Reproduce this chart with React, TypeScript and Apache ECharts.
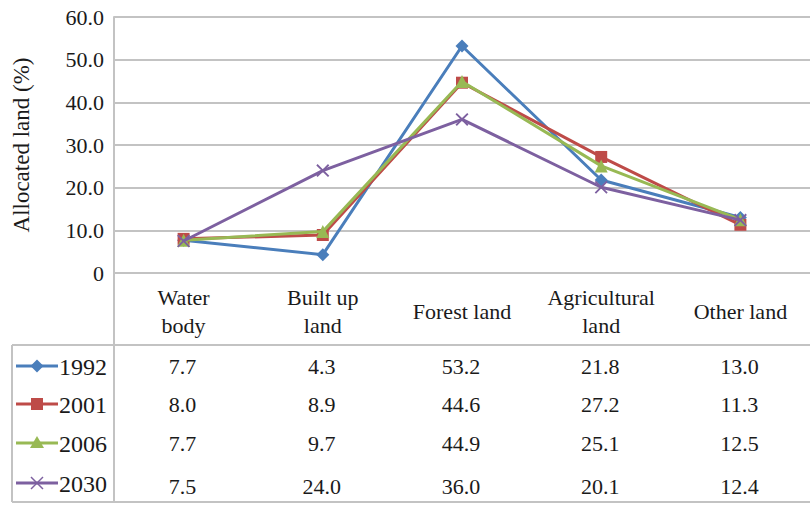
import React, { useEffect, useRef } from "react";
import * as echarts from "echarts";

const categories = ["Water\nbody", "Built up\nland", "Forest land", "Agricultural\nland", "Other land"];
const seriesNames = ["1992", "2001", "2006", "2030"];
const values1992 = [7.7, 4.3, 53.2, 21.8, 13.0];
const values2001 = [8.0, 8.9, 44.6, 27.2, 11.3];
const values2006 = [7.7, 9.7, 44.9, 25.1, 12.5];
const values2030 = [7.5, 24.0, 36.0, 20.1, 12.4];
const allValues = [values1992, values2001, values2006, values2030];
const colors = ["#4A7EBB", "#BE4B48", "#98B954", "#7D60A0"];
const X_SYMBOL = "path://M1,0L5,4L9,0L10,1L6,5L10,9L9,10L5,6L1,10L0,9L4,5L0,1Z";
const symbols = ["diamond", "rect", "triangle", X_SYMBOL];
const symbolSizes = [13, 12, 13, 13];

const FONT = "Liberation Serif";
const GRID_COLOR = "#C3C3C3";
const TXT = "#1a1a1a";

export default function App() {
  const ref = useRef<HTMLDivElement>(null);
  useEffect(() => {
    const chart = echarts.init(ref.current!, null, { renderer: "svg" });
    chart.setOption({
      animation: false,
      backgroundColor: "#ffffff",
      grid: { left: 114, top: 17, width: 700, height: 256, containLabel: false },
      xAxis: {
        type: "category",
        data: categories,
        boundaryGap: true,
        axisLine: { show: true, lineStyle: { color: GRID_COLOR, width: 2 } },
        axisTick: { show: false },
        axisLabel: {
          fontFamily: FONT,
          fontSize: 22,
          color: TXT,
          lineHeight: 28,
          verticalAlign: "middle",
          margin: 38,
          interval: 0,
        },
      },
      yAxis: {
        type: "value",
        min: 0,
        max: 60,
        interval: 10,
        name: "Allocated land (%)",
        nameLocation: "middle",
        nameGap: 81,
        nameTextStyle: { fontFamily: FONT, fontSize: 23, color: TXT },
        axisLine: { show: true, lineStyle: { color: GRID_COLOR, width: 2 } },
        axisTick: { show: false },
        splitLine: { lineStyle: { color: GRID_COLOR, width: 2 } },
        axisLabel: {
          fontFamily: FONT,
          fontSize: 22,
          color: TXT,
          margin: 10,
          formatter: (v: number) => (v === 0 ? "0" : v.toFixed(1)),
        },
      },
      series: seriesNames.map((name, i) => ({
        name,
        type: "line",
        data: allValues[i],
        symbol: symbols[i],
        symbolSize: symbolSizes[i],
        itemStyle: { color: colors[i] },
        lineStyle: { color: colors[i], width: 3 },
        z: 2 + i,
      })),
    });

    // Data table built from the arrays, placed with the library's scale
    const rowY = [366, 404, 443, 483];
    const graphic: any[] = [];
    const lineStyle = { stroke: GRID_COLOR, lineWidth: 2 };
    graphic.push({ type: "line", shape: { x1: 12, y1: 345, x2: 810, y2: 345 }, style: lineStyle });
    graphic.push({ type: "line", shape: { x1: 12, y1: 502, x2: 810, y2: 502 }, style: lineStyle });
    graphic.push({ type: "line", shape: { x1: 12, y1: 345, x2: 12, y2: 502 }, style: lineStyle });
    graphic.push({ type: "line", shape: { x1: 114, y1: 273, x2: 114, y2: 502 }, style: lineStyle });
    seriesNames.forEach((name, i) => {
      const y = rowY[i];
      const c = colors[i];
      graphic.push({ type: "line", shape: { x1: 16, y1: y, x2: 58, y2: y }, style: { stroke: c, lineWidth: 3 } });
      const mx = 37;
      if (i === 0) {
        graphic.push({ type: "polygon", shape: { points: [[mx, y - 6.5], [mx + 6.5, y], [mx, y + 6.5], [mx - 6.5, y]] }, style: { fill: c } });
      } else if (i === 1) {
        graphic.push({ type: "rect", shape: { x: mx - 6, y: y - 6, width: 12, height: 12 }, style: { fill: c } });
      } else if (i === 2) {
        graphic.push({ type: "polygon", shape: { points: [[mx, y - 7], [mx + 7, y + 5], [mx - 7, y + 5]] }, style: { fill: c } });
      } else {
        graphic.push({ type: "line", shape: { x1: mx - 6, y1: y - 6, x2: mx + 6, y2: y + 6 }, style: { stroke: c, lineWidth: 1.5 } });
        graphic.push({ type: "line", shape: { x1: mx + 6, y1: y - 6, x2: mx - 6, y2: y + 6 }, style: { stroke: c, lineWidth: 1.5 } });
      }
      graphic.push({
        type: "text",
        x: 59,
        y: y + 1,
        style: { text: name, fontFamily: FONT, fontSize: 24, fill: TXT, verticalAlign: "middle", align: "left" },
      });
      allValues[i].forEach((v, j) => {
        const px = chart.convertToPixel({ xAxisIndex: 0 }, categories[j]) as number;
        graphic.push({
          type: "text",
          x: px - 1,
          y: y + (i === 3 ? 3 : 0),
          style: { text: v.toFixed(1), fontFamily: FONT, fontSize: 22, fill: TXT, align: "center", verticalAlign: "middle" },
        });
      });
    });
    chart.setOption({ graphic });

    return () => chart.dispose();
  }, []);
  return (
    <>
      <style>{`body{margin:0}#chart-box text{font-family:"Liberation Serif","Times New Roman",serif !important;}`}</style>
      <div id="chart-box" ref={ref} style={{ width: 810, height: 505 }} />
    </>
  );
}
